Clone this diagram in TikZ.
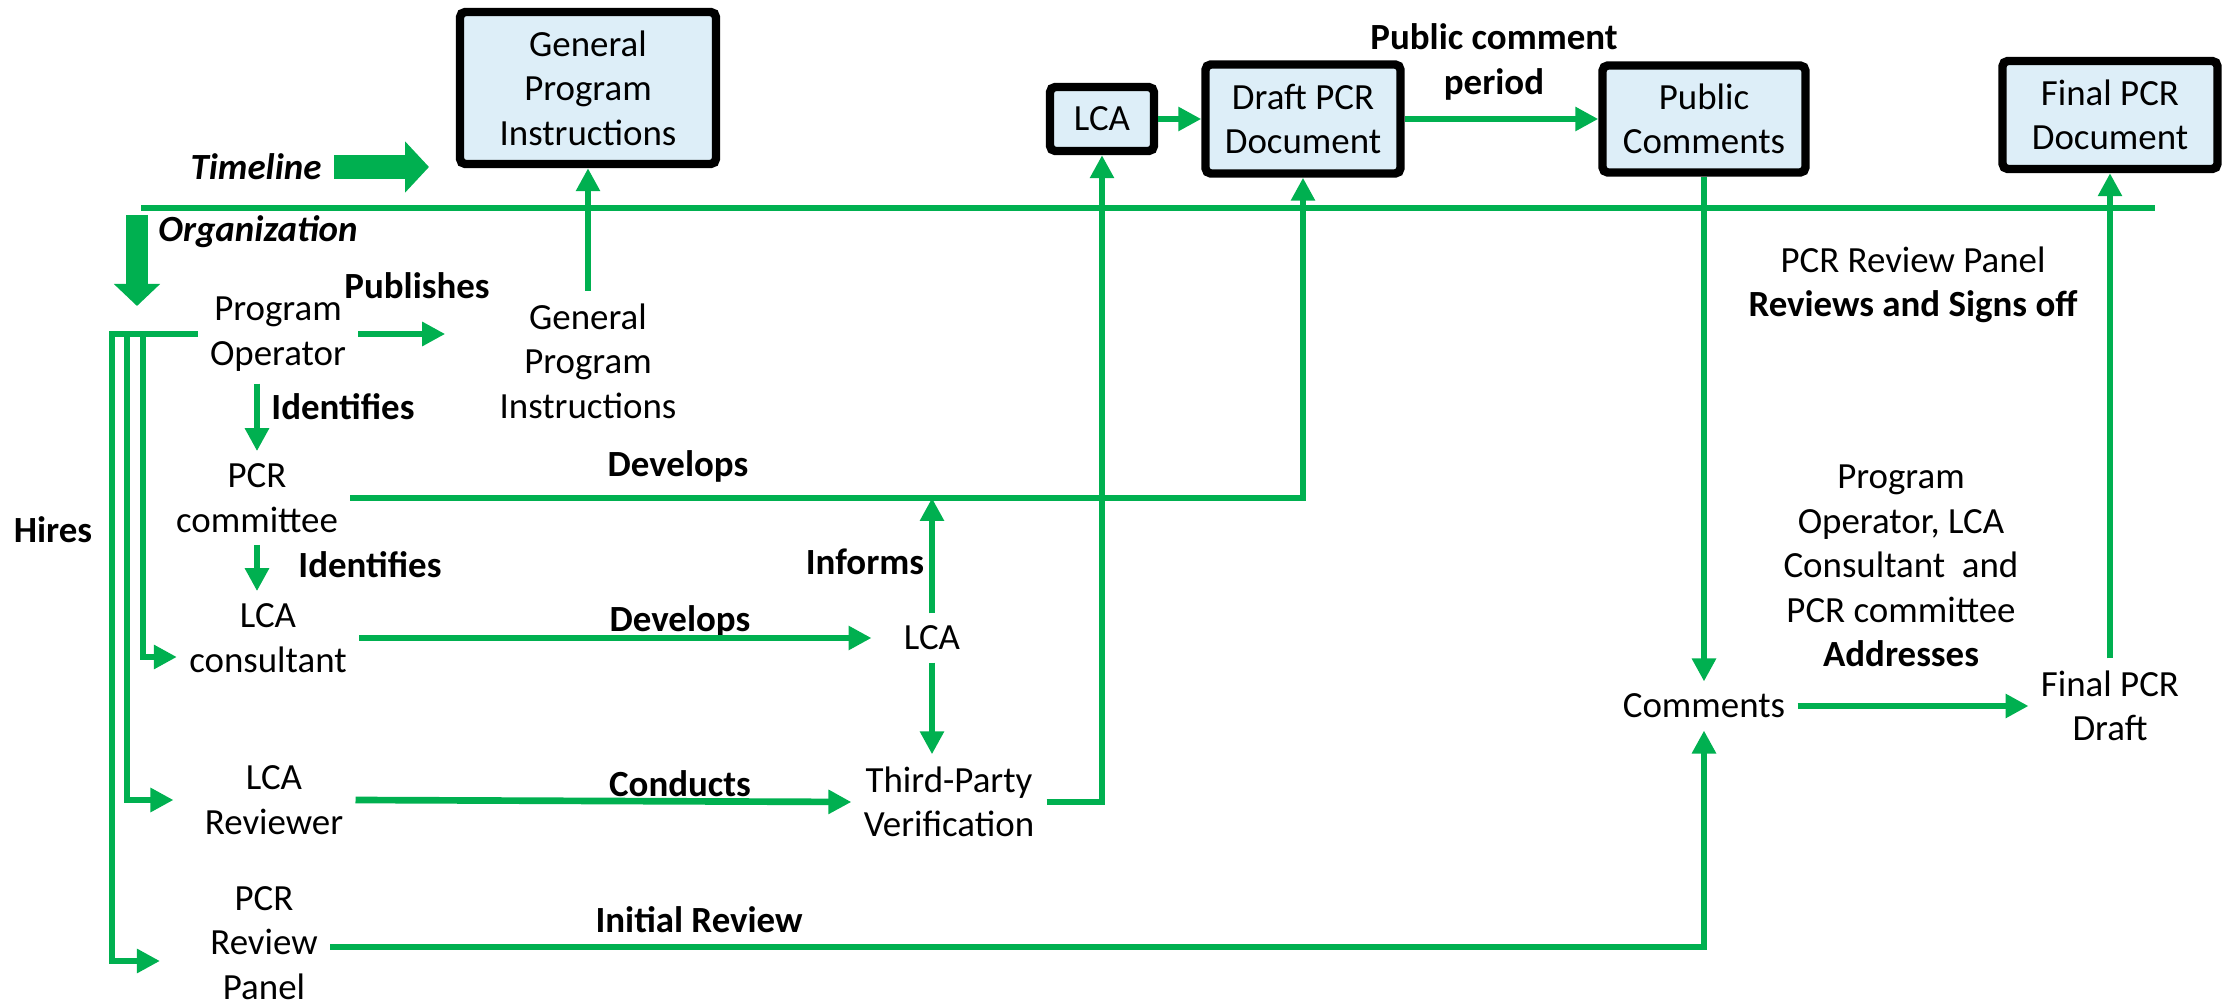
\documentclass[tikz,border=0pt]{standalone}
\usepackage{fontspec}
\setmainfont{Carlito}
\usepackage{xcolor}
\usetikzlibrary{arrows.meta}
\definecolor{pcrgreen}{HTML}{00B050}
\definecolor{boxblue}{HTML}{DDEEF8}

\begin{document}
\begin{tikzpicture}[
  font=\fontsize{10.5}{12.7}\selectfont,
  txt/.style={align=center},
  lbl/.style={align=center, font=\fontsize{10.5}{12.7}\selectfont\bfseries},
  docbox/.style={draw=black, line width=2.4pt, fill=boxblue, rounded corners=1.5pt, align=center},
  conn/.style={draw=pcrgreen, line width=1.9pt, -{Triangle[length=0.23cm,width=0.23cm]}},
  plain/.style={draw=pcrgreen, line width=1.9pt},
  bigarrow/.style={draw=pcrgreen, line width=0.24cm, -{Triangle[length=0.24cm,width=0.5cm]}}
]
  \useasboundingbox (0,0) rectangle (22.22,-10.08);

  % Draw timeline
  \coordinate (tl0) at (1.41,-2.08);
  \coordinate (tl1) at (21.55,-2.08);
  \coordinate (tlend) at (4.29,-1.67);
  \coordinate (orgtop) at (1.37,-2.15);
  \coordinate (orgend) at (1.37,-3.06);
  \draw[plain] (tl0) -- (tl1);
  \node[txt] (timeline) at (2.56,-1.67) {\textbf{\textit{Timeline}}};
  \node[txt] (org) at (2.58,-2.32) {\textbf{\textit{Organization}}};
  \draw[bigarrow] (timeline.east) -- (tlend);
  \draw[bigarrow, line width=0.22cm, -{Triangle[length=0.22cm,width=0.45cm]}] (orgtop) -- (orgend);

  % Draw documents
  \node[docbox, minimum width=2.56cm, minimum height=1.52cm] (gpib) at (5.88,-0.88) {General\\Program\\Instructions};
  \node[docbox, minimum width=1.04cm, minimum height=0.64cm] (lcab) at (11.02,-1.19) {LCA};
  \node[docbox, minimum width=1.95cm, minimum height=1.09cm] (draftb) at (13.03,-1.19) {Draft PCR\\Document};
  \node[docbox, minimum width=2.03cm, minimum height=1.07cm] (pubb) at (17.04,-1.19) {Public\\Comments};
  \node[docbox, minimum width=2.15cm, minimum height=1.08cm] (finalb) at (21.10,-1.15) {Final PCR\\Document};

  % Draw organization
  \node[txt] (po) at (2.78,-3.34) {Program\\Operator};
  \node[txt] (gpit) at (5.88,-3.61) {General\\Program\\Instructions};
  \node[txt] (pcrc) at (2.57,-4.98) {PCR\\committee};
  \node[txt] (lcac) at (2.68,-6.38) {LCA\\consultant};
  \node[txt] (lcar) at (2.74,-8.00) {LCA\\Reviewer};
  \node[txt] (prp) at (2.64,-9.43) {PCR\\Review\\Panel};
  \node[txt] (lcam) at (9.32,-6.38) {LCA};
  \node[txt] (tpv) at (9.49,-8.02) {Third-Party\\Verification};
  \node[txt] (comments) at (17.04,-7.06) {Comments};
  \node[txt] (finaldraft) at (21.10,-7.06) {Final PCR\\Draft};
  \node[txt] (revpanel) at (19.13,-2.85) {PCR Review Panel\\\textbf{Reviews and Signs off}};
  \node[txt] (addr) at (19.01,-5.66) {Program\\Operator, LCA\\Consultant~~and\\PCR committee\\\textbf{Addresses}};

  % Label the actions
  \node[lbl] (publishes) at (4.17,-2.86) {Publishes};
  \node[lbl] (ident1) at (3.43,-4.07) {Identifies};
  \node[lbl] (dev1) at (6.78,-4.66) {Develops};
  \node[lbl] (ident2) at (3.70,-5.65) {Identifies};
  \node[lbl] (dev2) at (6.80,-6.21) {Develops};
  \node[lbl] (informs) at (8.65,-5.62) {Informs};
  \node[lbl] (conducts) at (6.80,-7.84) {Conducts};
  \node[lbl] (initrev) at (6.99,-9.20) {Initial Review};
  \node[lbl] (hires) at (0.53,-5.30) {Hires};
  \node[lbl] (pcp) at (14.94,-0.62) {Public comment\\period};

  % Hires bracket
  \coordinate (hire1) at (1.12,-3.34);
  \coordinate (hire2) at (1.27,-3.34);
  \coordinate (hire3) at (1.43,-3.34);
  \draw[conn, shorten >=0.38cm] (po.west) -- (hire1) |- ([yshift=-0.18cm]prp.west);
  \draw[conn, shorten >=0.19cm] (hire2) |- (lcar.west);
  \draw[conn] (hire3) |- ([yshift=-0.19cm]lcac.west);

  % Draw connectors
  \draw[conn, shorten >=0.42cm] (po.east) -- (po.east -| gpit.west);
  \draw[conn] (gpit) -- (gpib);
  \draw[conn] (po.south -| pcrc.north) -- (pcrc.north);
  \draw[conn] (pcrc.east) -| (draftb.south);
  \draw[conn] (pcrc.south) -- (pcrc.south |- lcac.north);
  \draw[conn, shorten >=0.2cm] (lcac.east) -- (lcac.east -| lcam.west);
  \draw[conn] (lcam.north) -- (lcam.north |- pcrc.east);
  \draw[conn] (lcam.south) -- (lcam.south |- tpv.north);
  \draw[conn] (lcar.east) -- (tpv.west);
  \draw[conn] (tpv.east) -| (lcab.south);
  \draw[conn] (lcab) -- (draftb);
  \draw[conn] (draftb) -- (pubb);
  \draw[conn] (pubb) -- (comments);
  \draw[conn] ([yshift=-0.04cm]prp.east) -| (comments.south);
  \draw[conn] (comments) -- (finaldraft);
  \draw[conn] (finaldraft) -- (finalb);
\end{tikzpicture}
\end{document}
